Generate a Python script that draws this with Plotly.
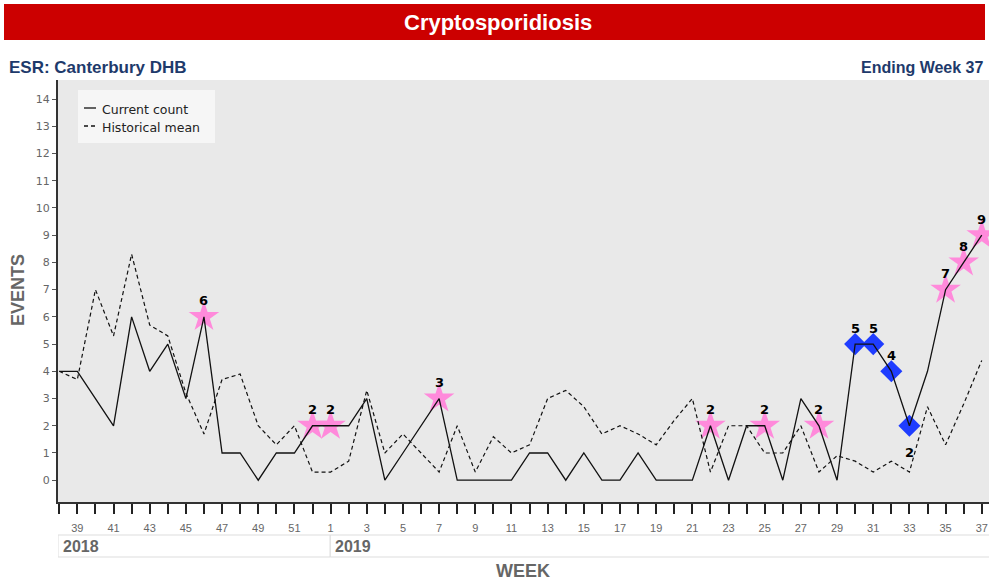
import plotly.graph_objects as go

weeks = [38, 39, 40, 41, 42, 43, 44, 45, 46, 47, 48, 49, 50, 51, 52,
         1, 2, 3, 4, 5, 6, 7, 8, 9, 10, 11, 12, 13, 14, 15, 16, 17, 18, 19, 20,
         21, 22, 23, 24, 25, 26, 27, 28, 29, 30, 31, 32, 33, 34, 35, 36, 37]
current_count = [4, 4, 3, 2, 6, 4, 5, 3, 6, 1, 1, 0, 1, 1, 2,
                 2, 2, 3, 0, 1, 2, 3, 0, 0, 0, 0, 1, 1, 0, 1, 0, 0, 1, 0, 0,
                 0, 2, 0, 2, 2, 0, 3, 2, 0, 5, 5, 4, 2, 4, 7, 8, 9]
historical_mean = [4.0, 3.7, 7.0, 5.3, 8.3, 5.7, 5.3, 3.2, 1.7, 3.7, 3.9, 2.0, 1.3, 2.0, 0.3,
                   0.3, 0.7, 3.3, 1.0, 1.7, 1.0, 0.3, 2.0, 0.3, 1.6, 1.0, 1.3, 3.0, 3.3, 2.7, 1.7, 2.0, 1.7, 1.3, 2.2,
                   3.0, 0.3, 2.0, 2.0, 1.0, 1.0, 2.0, 0.3, 0.9, 0.7, 0.3, 0.7, 0.3, 2.7, 1.3, 2.8, 4.4]
star_weeks = [46, 52, 1, 7, 22, 25, 28, 35, 36, 37]
star_year_index = [0, 0, 1, 1, 1, 1, 1, 1, 1, 1]
diamond_weeks = [30, 31, 32, 33]
label_below_weeks = [33]
years = ["2018", "2019"]
y_ticks = list(range(0, 15))


def idx_of(week, year_i):
    if year_i == 0:
        return weeks.index(week)
    return 15 + weeks[15:].index(week)


x = list(range(len(weeks)))
star_x = [idx_of(w, yi) for w, yi in zip(star_weeks, star_year_index)]
star_y = [current_count[i] for i in star_x]
dia_x = [idx_of(w, 1) for w in diamond_weeks]
dia_y = [current_count[i] for i in dia_x]

tick_text = [str(w) if i % 2 == 1 else "" for i, w in enumerate(weeks)]

fig = go.Figure()
fig.add_trace(go.Scatter(x=star_x, y=star_y, mode="markers",
                         marker=dict(symbol="star", size=23, color="#FF8ADB", line=dict(width=0)),
                         showlegend=False, hoverinfo="skip"))
fig.add_trace(go.Scatter(x=dia_x, y=dia_y, mode="markers",
                         marker=dict(symbol="diamond", size=17, color="#1F3DFF", line=dict(width=0)),
                         showlegend=False, hoverinfo="skip"))
fig.add_trace(go.Scatter(x=x, y=historical_mean, mode="lines",
                         line=dict(color="#111111", width=1.2, dash="4px,3px"),
                         name="Historical mean", showlegend=False))
fig.add_trace(go.Scatter(x=x, y=current_count, mode="lines",
                         line=dict(color="#111111", width=1.3),
                         name="Current count", showlegend=False))

ann = []
label_font = dict(family="DejaVu Sans, Arial", size=13, color="#000000")
for xi, yi in zip(star_x, star_y):
    ann.append(dict(x=xi, y=yi, xref="x", yref="y", text="<b>%d</b>" % yi, showarrow=False,
                    xanchor="center", yanchor="middle", yshift=16, font=label_font))
for w, xi, yi in zip(diamond_weeks, dia_x, dia_y):
    below = w in label_below_weeks
    ann.append(dict(x=xi, y=yi, xref="x", yref="y", text="<b>%d</b>" % yi, showarrow=False,
                    xanchor="center", yanchor="middle", yshift=-27 if below else 16, font=label_font))

L, R, T, B = 58, 0, 80, 83
W, H = 989, 585
pw, ph = W - L - R, H - T - B


def px(xp):
    return (xp - L) / pw


def py(yp):
    return (H - B - yp) / ph


narrow = "Liberation Sans Narrow, Arial Narrow, Liberation Sans, Arial"
shapes = []
# Title bar
shapes.append(dict(type="rect", xref="paper", yref="paper", x0=px(4), x1=px(985), y0=py(40), y1=py(4),
                   fillcolor="#CC0000", line=dict(width=0), layer="below"))
ann.append(dict(xref="paper", yref="paper", x=px(498), y=py(22), xanchor="center", yanchor="middle",
                text="<b>Cryptosporidiosis</b>",
                showarrow=False, font=dict(family=narrow, size=22, color="white")))
ann.append(dict(xref="paper", yref="paper", x=px(7), y=py(67), xanchor="left", yanchor="middle",
                text="<b>ESR: Canterbury DHB</b>",
                showarrow=False, font=dict(family=narrow, size=17, color="#1E3A6B")))
ann.append(dict(xref="paper", yref="paper", x=px(986), y=py(67), xanchor="right", yanchor="middle",
                text="<b>Ending Week 37</b>",
                showarrow=False, font=dict(family=narrow, size=16, color="#1E3A6B")))

# Year row
year_bounds = [(-0.07, 14.98), (14.98, 51.45)]
for (a, b), yr in zip(year_bounds, years):
    shapes.append(dict(type="rect", xref="x", yref="paper", x0=a, x1=b, y0=py(557), y1=py(535),
                       line=dict(color="#DDDDDD", width=1), fillcolor="white"))
    ann.append(dict(xref="x", yref="paper", x=a, y=py(546), xshift=3, xanchor="left", yanchor="middle",
                    text="<b>%s</b>" % yr,
                    showarrow=False, font=dict(family=narrow, size=16, color="#666666")))

ann.append(dict(xref="paper", yref="paper", x=px(523), y=py(571), xanchor="center", yanchor="middle",
                text="<b>WEEK</b>", showarrow=False,
                font=dict(family=narrow, size=18, color="#666666")))
ann.append(dict(xref="paper", yref="paper", x=px(18), y=py(290), xanchor="center", yanchor="middle",
                text="<b>EVENTS</b>", showarrow=False,
                textangle=-90, font=dict(family="Liberation Sans, Arial", size=18, color="#666666")))

# Legend
shapes.append(dict(type="rect", xref="paper", yref="paper", x0=px(78), x1=px(215), y0=py(143), y1=py(90),
                   fillcolor="#F6F6F6", line=dict(width=0)))
shapes.append(dict(type="line", xref="paper", yref="paper", x0=px(84), x1=px(96), y0=py(108), y1=py(108),
                   line=dict(color="#111111", width=1.3)))
shapes.append(dict(type="line", xref="paper", yref="paper", x0=px(84), x1=px(96), y0=py(126), y1=py(126),
                   line=dict(color="#111111", width=1.3, dash="4px,3px")))
legend_font = dict(family="DejaVu Sans, Verdana, Arial", size=12.5, color="#222222")
ann.append(dict(xref="paper", yref="paper", x=px(100), y=py(109), xanchor="left", yanchor="middle",
                text="Current count", showarrow=False, font=legend_font))
ann.append(dict(xref="paper", yref="paper", x=px(100), y=py(127), xanchor="left", yanchor="middle",
                text="Historical mean", showarrow=False, font=legend_font))

fig.update_layout(
    width=W, height=H,
    margin=dict(l=L, r=R, t=T, b=B),
    paper_bgcolor="white",
    plot_bgcolor="#E9E9E9",
    shapes=shapes,
    annotations=ann,
    showlegend=False,
    xaxis=dict(range=[-0.07, 51.4], tickmode="array", tickvals=x, ticktext=tick_text,
               ticks="outside", ticklen=10, tickcolor="#222222", tickwidth=1.5,
               ticklabelstandoff=5,
               showline=True, linecolor="#333333", linewidth=2, showgrid=False, zeroline=False,
               tickfont=dict(family=narrow, size=11, color="#666666"), fixedrange=True),
    yaxis=dict(range=[-0.8, 14.7], tickmode="array", tickvals=y_ticks,
               ticks="outside", ticklen=4, tickcolor="#555555",
               showline=True, linecolor="#333333", linewidth=2, showgrid=False, zeroline=False,
               tickfont=dict(family="DejaVu Sans, Verdana, Arial", size=11, color="#666666"), fixedrange=True),
)

post = ("document.documentElement.style.margin='0';document.body.style.margin='0';"
        "document.documentElement.style.overflow='hidden';document.body.style.overflow='hidden';")
fig.write_html("out.html", post_script=post, config={"displayModeBar": False})
